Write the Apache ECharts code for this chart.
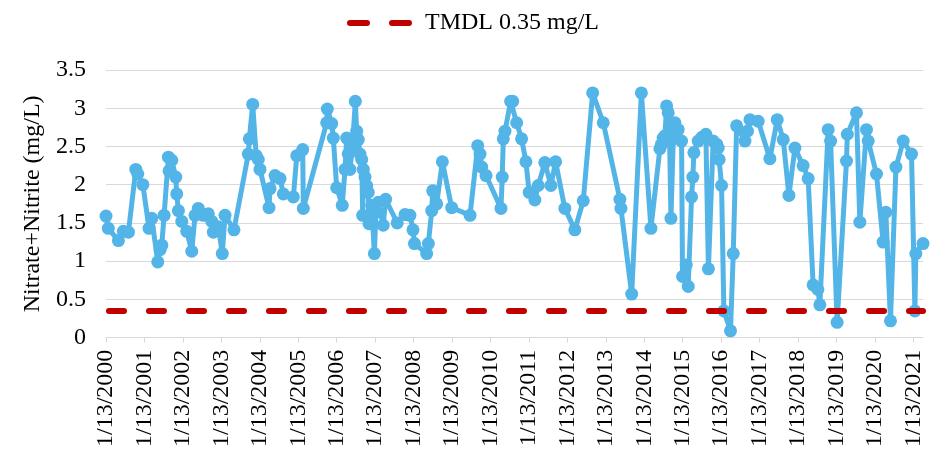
<!DOCTYPE html>
<html>
<head>
<meta charset="utf-8">
<script src="https://cdn.jsdelivr.net/npm/echarts@6/dist/echarts.min.js"></script>
<style>html,body{margin:0;padding:0;background:#fff;}#c{width:935px;height:450px;}</style>
</head>
<body>
<div id="c"></div>
<script>
const sampleDates = [
'2000-01-13','2000-02-04','2000-05-10','2000-06-26','2000-08-13','2000-10-22','2000-11-10','2000-12-28',
'2001-02-25','2001-03-23','2001-05-19','2001-06-10','2001-06-26','2001-07-18','2001-08-28','2001-09-03','2001-09-29','2001-11-06','2001-11-15','2001-12-01',
'2002-01-02','2002-02-18','2002-04-07','2002-05-08','2002-06-08','2002-07-26','2002-09-11','2002-10-14','2002-10-29','2002-12-15',
'2003-01-22','2003-02-17','2003-05-13','2003-09-26','2003-10-06','2003-11-07','2003-12-10','2003-12-30',
'2004-01-15','2004-04-10','2004-04-20','2004-06-06','2004-07-24','2004-08-24','2004-11-27','2004-12-30',
'2005-02-24','2005-03-02','2005-10-10','2005-10-16','2005-11-27','2005-12-12',
'2006-01-13','2006-03-07','2006-04-02','2006-04-18','2006-05-03','2006-05-19','2006-06-12','2006-07-09','2006-07-22','2006-08-06','2006-08-22','2006-09-08','2006-09-17','2006-09-23','2006-10-09','2006-10-25','2006-11-09','2006-11-16','2006-12-12',
'2007-01-06','2007-01-21','2007-02-12','2007-03-31','2007-04-23','2007-08-11','2007-10-24','2007-12-10',
'2008-01-08','2008-01-22','2008-05-17','2008-06-02','2008-07-04','2008-07-13','2008-08-20','2008-10-13',
'2009-01-10','2009-07-03','2009-09-14','2009-10-06','2009-10-22','2009-12-02',
'2010-04-23','2010-05-05','2010-05-15','2010-05-31','2010-07-24','2010-08-12','2010-09-19','2010-11-05','2010-12-16',
'2011-01-16','2011-03-11','2011-04-12','2011-06-14','2011-08-10','2011-09-24','2011-12-21',
'2012-03-25','2012-06-13','2012-09-10','2012-12-20',
'2013-05-27','2013-06-06','2013-09-16','2013-12-17',
'2014-03-18','2014-06-11','2014-06-27','2014-07-12','2014-07-29','2014-08-14','2014-08-29','2014-09-09','2014-09-24','2014-10-16','2014-11-01','2014-12-02',
'2015-01-03','2015-01-12','2015-02-16','2015-03-07','2015-04-08','2015-04-20','2015-04-30','2015-06-10','2015-07-15','2015-08-22','2015-09-15','2015-10-30','2015-12-02','2015-12-17','2015-12-26',
'2016-01-18','2016-02-09','2016-04-12','2016-05-08','2016-06-09','2016-08-27','2016-09-20','2016-10-14','2016-12-31',
'2017-04-21','2017-06-30','2017-08-26','2017-10-19','2017-12-15',
'2018-03-03','2018-04-20','2018-06-06','2018-07-21','2018-08-09','2018-10-27','2018-11-19',
'2019-01-20','2019-04-19','2019-04-27','2019-07-23','2019-08-24','2019-10-26','2019-11-11',
'2020-01-29','2020-04-01','2020-04-27','2020-06-10','2020-08-01','2020-10-09','2020-12-27',
'2021-01-28','2021-02-06','2021-04-15'
];
const nitrateNitrite = [
1.59,1.43,1.27,1.39,1.38,2.2,2.14,2.0,
1.43,1.56,0.99,1.15,1.21,1.6,2.36,2.18,2.32,2.1,1.88,1.66,
1.52,1.39,1.13,1.6,1.69,1.6,1.62,1.52,1.38,1.45,
1.1,1.6,1.41,2.4,2.6,3.05,2.38,2.33,
2.2,1.7,1.95,2.12,2.08,1.88,1.84,2.38,
2.46,1.69,2.81,2.99,2.8,2.61,
1.96,1.73,2.2,2.61,2.4,2.2,2.5,3.09,2.7,2.59,2.4,2.33,1.6,2.2,2.1,1.99,1.9,1.49,1.73,
1.1,1.64,1.77,1.47,1.81,1.5,1.61,1.6,
1.41,1.23,1.1,1.23,1.66,1.92,1.75,2.3,
1.7,1.6,2.51,2.4,2.23,2.12,
1.69,2.1,2.6,2.7,3.09,3.09,2.81,2.6,2.3,
1.9,1.8,1.99,2.29,1.99,2.3,1.69,
1.41,1.79,3.2,2.81,
1.81,1.69,0.57,3.2,
1.43,2.47,2.53,2.61,2.64,3.03,2.94,2.75,1.56,2.6,2.81,2.72,
2.57,0.8,0.95,0.67,1.84,2.1,2.42,2.57,2.62,2.66,0.9,2.57,2.53,2.48,2.33,
1.99,0.35,0.09,1.1,2.77,2.57,2.7,2.85,2.83,
2.34,2.85,2.59,1.86,2.48,
2.25,2.08,0.69,0.63,0.43,2.72,2.57,
0.2,2.31,2.66,2.94,1.51,2.72,2.57,
2.14,1.25,1.64,0.22,2.23,2.57,2.4,
0.35,1.1,1.23
];
const tmdlValue = 0.35;
const tmdlName = 'TMDL 0.35 mg/L';
const tickYears = [2000,2001,2002,2003,2004,2005,2006,2007,2008,2009,2010,2011,2012,2013,2014,2015,2016,2017,2018,2019,2020,2021];
const yTicks = [0,0.5,1,1.5,2,2.5,3,3.5];

function ts(s){ const p = s.split('-').map(Number); return Date.UTC(p[0], p[1]-1, p[2]); }
const xs = sampleDates.map(ts);
const xMin = Date.UTC(2000,0,13);
const xMax = xs[xs.length-1];
const tickVals = tickYears.map(y => Date.UTC(y,0,13));

const FONT = 'Liberation Serif, Times New Roman, serif';
const chart = echarts.init(document.getElementById('c'), null, {renderer:'canvas'});
chart.setOption({
  animation: false,
  backgroundColor: '#fff',
  textStyle: {fontFamily: FONT},
  grid: {left: 106, right: 12, top: 70, bottom: 110},
  legend: {
    data: [{name: tmdlName, icon: 'path://M3,0H20A3,3 0 0 1 20,6H3A3,3 0 0 1 3,0Z M45,0H62A3,3 0 0 1 62,6H45A3,3 0 0 1 45,0Z'}],
    top: 6, left: 342, itemWidth: 65, itemHeight: 6,
    textStyle: {fontFamily: FONT, fontSize: 24, color: '#000', padding: [0,0,0,8]}
  },
  xAxis: {
    type: 'value', min: xMin, max: xMax, scale: true,
    axisLine: {show: true, onZero: false, lineStyle: {color: '#d9d9d9', width: 1}},
    axisTick: {show: true, length: 5, lineStyle: {color: '#d9d9d9'}, customValues: tickVals},
    splitLine: {show: false},
    axisLabel: {
      customValues: tickVals, rotate: 90, margin: 12, fontFamily: FONT, fontSize: 24, color: '#000',
      formatter: v => '1/13/' + new Date(v).getUTCFullYear(), hideOverlap: false
    }
  },
  yAxis: {
    type: 'value', min: yTicks[0], max: yTicks[yTicks.length-1], interval: 0.5,
    name: 'Nitrate+Nitrite (mg/L)', nameLocation: 'middle', nameGap: 58,
    nameTextStyle: {fontFamily: FONT, fontSize: 24, color: '#000'},
    axisLine: {show: false}, axisTick: {show: false},
    splitLine: {lineStyle: {color: '#d9d9d9', width: 1}},
    axisLabel: {fontFamily: FONT, fontSize: 24, color: '#000', margin: 20}
  },
  series: [
    {
      name: 'Nitrate+Nitrite', type: 'line',
      data: xs.map((x,i) => [x, nitrateNitrite[i]]),
      symbol: 'circle', symbolSize: 13, showSymbol: true, showAllSymbol: true,
      lineStyle: {color: '#52B4E7', width: 5},
      itemStyle: {color: '#52B4E7'},
      z: 2
    },
    {
      name: tmdlName, type: 'line',
      data: [[xMin, tmdlValue], [xMax, tmdlValue]],
      symbol: 'none',
      lineStyle: {color: '#C00000', width: 6, type: [15, 25], cap: 'round', dashOffset: -3},
      itemStyle: {color: '#C00000'},
      z: 3
    }
  ]
});
</script>
</body>
</html>
